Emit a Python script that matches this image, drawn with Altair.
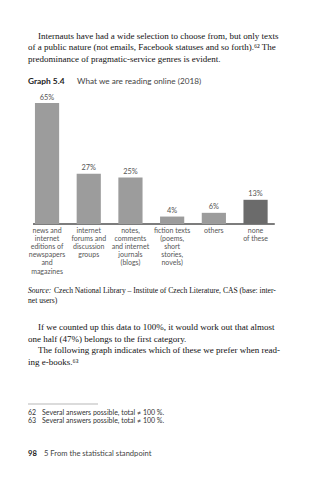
import altair as alt
import pandas as pd

categories = ["news and\ninternet\neditions of\nnewspapers\nand\nmagazines",
              "internet\nforums and\ndiscussion\ngroups",
              "notes,\ncomments\nand internet\njournals\n(blogs)",
              "fiction texts\n(poems,\nshort\nstories,\nnovels)",
              "others",
              "none\nof these"]
values = [65, 27, 25, 4, 6, 13]
labels = ["65%", "27%", "25%", "4%", "6%", "13%"]
kinds = ["answer", "answer", "answer", "answer", "answer", "none"]

para1 = ["Internauts have had a wide selection to choose from, but only texts",
         "of a public nature (not emails, Facebook statuses and so forth).\u2076\u00b2 The",
         "predominance of pragmatic-service genres is evident."]
para2 = ["If we counted up this data to 100%, it would work out that almost",
         "one half (47%) belongs to the first category.",
         "The following graph indicates which of these we prefer when read-",
         "ing e-books.\u2076\u00b3"]
source_rest = "Czech National Library \u2013 Institute of Czech Literature, CAS (base: inter-"
source_line2 = "net users)"
footnotes_num = "62\n63"
footnotes_txt = "Several answers possible, total \u2260 100 %.\nSeveral answers possible, total \u2260 100 %."

df = pd.DataFrame({"cat": categories, "value": values, "label": labels, "kind": kinds})
order = categories

SERIF = "Liberation Serif"
SANS = "Lato"

xs = alt.Scale(domain=order, range=[26.2, 276.4], paddingInner=0.42, paddingOuter=0.21)
ys = alt.Scale(domain=[0, 65], range=[224, 103], nice=False, zero=True)

X = alt.X("cat:N", scale=xs, axis=None, sort=order)
Y = alt.Y("value:Q", scale=ys, axis=None)

bars = alt.Chart(df).mark_bar().encode(
    x=X, y=Y,
    color=alt.Color("kind:N", scale=alt.Scale(domain=["answer", "none"], range=["#9c9c9c", "#6b6b6b"]), legend=None),
)
bar_labels = alt.Chart(df).mark_text(font=SANS, fontSize=7.4, color="#555", dy=-3.5, baseline="alphabetic").encode(
    x=X, y=Y, text="label:N",
)
cat_labels = alt.Chart(df).mark_text(
    font=SANS, fontSize=7, color="#555", baseline="alphabetic", lineHeight=8.1, lineBreak="\n"
).encode(
    x=X, y=alt.value(233), text="cat:N",
)
baseline = alt.Chart(df).mark_rule(color="#777", strokeWidth=0.8).encode(
    x=alt.value(33), x2=alt.value(274.5), y=alt.value(224)
)

one = pd.DataFrame({"d": [0]})

def txt(text, x, y, font=SERIF, size=9.0, weight="normal", style="normal", color="#111", lh=11.7):
    return alt.Chart(one).mark_text(
        font=font, fontSize=size, fontWeight=weight, fontStyle=style,
        color=color, align="left", baseline="alphabetic", lineHeight=lh, lineBreak="\n"
    ).encode(x=alt.value(x), y=alt.value(y), text=alt.value(text))

layers = [
    txt(para1[0], 38, 38.5),
    txt(para1[1] + "\n" + para1[2], 28, 50.2),
    txt("Graph 5.4", 28, 84, font=SANS, size=8.4, weight="bold", color="#222"),
    txt("What we are reading online (2018)", 77, 84, font=SANS, size=8.2, color="#444"),
    baseline, bars, bar_labels, cat_labels,
    txt("Source:", 28, 293, size=7.6, style="italic"),
    txt(source_rest, 54, 293, size=7.6),
    txt(source_line2, 28, 302.5, size=7.6),
    txt(para2[0], 38, 330),
    txt(para2[1], 28, 341.7),
    txt(para2[2], 38, 353.4),
    txt(para2[3], 28, 365.1),
    alt.Chart(one).mark_rule(color="#999", strokeWidth=0.7).encode(
        x=alt.value(28), x2=alt.value(98), y=alt.value(404)),
    txt(footnotes_num, 28, 415, font=SANS, size=7, color="#333", lh=8.3),
    txt(footnotes_txt, 42, 415, font=SANS, size=7, color="#333", lh=8.3),
    txt("98", 28, 456, font=SANS, size=7.6, weight="bold", color="#222"),
    txt("5  From the statistical standpoint", 44, 456, font=SANS, size=7.6, color="#444"),
]

chart = alt.layer(*layers).properties(
    width=328, height=480, padding=0, autosize=alt.AutoSizeParams(type="none"),
    background="white"
).configure_view(strokeWidth=0)

chart.save("out.html", embed_options={"renderer": "svg", "actions": False})
